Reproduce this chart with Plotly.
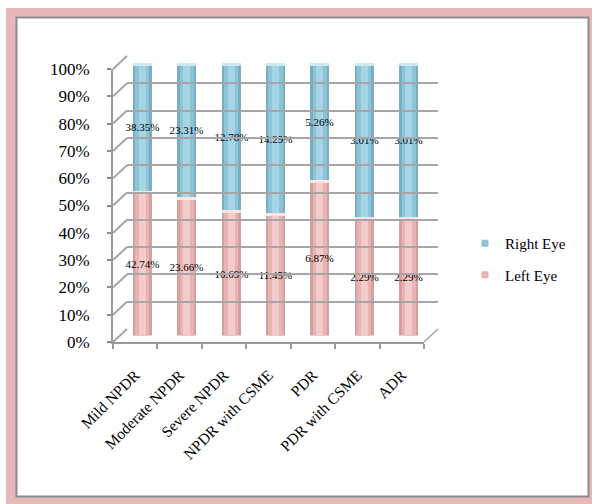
import plotly.graph_objects as go

# Diabetic retinopathy grades, share of eyes per grade
categories = ["Mild NPDR", "Moderate NPDR", "Severe NPDR", "NPDR with CSME",
              "PDR", "PDR with CSME", "ADR"]
left_eye = [42.74, 23.66, 10.69, 11.45, 6.87, 2.29, 2.29]
right_eye = [38.35, 23.31, 12.78, 14.29, 5.26, 3.01, 3.01]
y_ticks = list(range(0, 101, 10))

# 100% stacking: each column split between left and right eye
left_share = [l / (l + r) * 100 for l, r in zip(left_eye, right_eye)]
right_share = [r / (l + r) * 100 for l, r in zip(left_eye, right_eye)]

# Pseudo-3D frame geometry (pixels)
FIG_W, FIG_H = 592, 504
W, H = 311, 273          # front face of the plot box
DX, DY = 14, 13          # depth offset of the back wall
ML, MT = 113, 56
PW, PH = W + DX, H + DY
MR = FIG_W - ML - PW
MB = FIG_H - MT - PH


def px(x):
    return (x - ML) / PW


def py(y):
    return (MT + PH - y) / PH


SERIF = "Liberation Serif"
GRID = "#a6a6a6"

BLUE = ["#78adc2", "#8ec4d8", "#a6d5e5"]
PINK = ["#d39f9f", "#e7b4b4", "#f4caca"]
BAR_W = 0.43

fig = go.Figure()

# Cylinder-like columns: a darker body with lighter, narrower cores on top
for i, w in enumerate([BAR_W, 0.32, 0.16]):
    fig.add_trace(go.Bar(
        x=categories, y=left_share, base=[0] * len(categories), width=w,
        marker=dict(color=PINK[i], line=dict(width=0)),
        showlegend=False, hoverinfo="skip",
    ))
    fig.add_trace(go.Bar(
        x=categories, y=right_share, base=left_share, width=w,
        marker=dict(color=BLUE[i], line=dict(width=0)),
        showlegend=False, hoverinfo="skip",
    ))

# Light rims where the two segments meet and on top of each column
fig.add_trace(go.Bar(
    x=categories, y=[0.9] * len(categories),
    base=[s - 0.45 for s in left_share], width=BAR_W,
    marker=dict(color="#fbe6e6", line=dict(width=0)),
    showlegend=False, hoverinfo="skip",
))
fig.add_trace(go.Bar(
    x=categories, y=[1.2] * len(categories),
    base=[l + r - 1.2 for l, r in zip(left_share, right_share)], width=BAR_W,
    marker=dict(color="#cde9f2", line=dict(width=0)),
    showlegend=False, hoverinfo="skip",
))

# Value labels, centred on each segment
for share, base, vals in [(left_share, [0] * len(categories), left_eye),
                          (right_share, left_share, right_eye)]:
    fig.add_trace(go.Bar(
        x=categories, y=share, base=base, width=BAR_W,
        marker=dict(color="rgba(0,0,0,0)", line=dict(width=0)),
        text=[f"{v:.2f}%" for v in vals], textposition="inside",
        insidetextanchor="middle", textangle=0, constraintext="none",
        textfont=dict(family=SERIF, size=11, color="#000000"),
        showlegend=False, hoverinfo="skip",
    ))

# Legend entries
for name, col in [("Right Eye", BLUE[1]), ("Left Eye", PINK[1])]:
    fig.add_trace(go.Scatter(
        x=[None], y=[None], mode="markers", name=name, legendgroup=name,
        marker=dict(symbol="square", size=7, color=col),
    ))

shapes = []
# Outer pink frame and inner white panel
shapes.append(dict(type="rect", xref="paper", yref="paper", layer="below",
                   x0=px(6), x1=px(FIG_W + 5), y0=py(8), y1=py(FIG_H + 5),
                   fillcolor="#e6b8b7", line=dict(width=0)))
shapes.append(dict(type="rect", xref="paper", yref="paper", layer="below",
                   x0=px(16.5), x1=px(588.5), y0=py(17.5), y1=py(496.5),
                   fillcolor="white", line=dict(color="#8c8c8c", width=2)))

# Side wall: diagonals joining the front axis to the back-wall gridlines
for v in y_ticks:
    yf = v / 100 * H / PH
    yb = (DY + v / 100 * H) / PH
    shapes.append(dict(type="line", xref="paper", yref="paper", layer="below",
                       x0=0, y0=yf, x1=DX / PW, y1=yb,
                       line=dict(color=GRID, width=2)))
# Floor right edge
shapes.append(dict(type="line", xref="paper", yref="paper", layer="below",
                   x0=W / PW, y0=0, x1=1, y1=DY / PH,
                   line=dict(color=GRID, width=1.5)))

fig.update_layout(
    width=FIG_W, height=FIG_H,
    margin=dict(l=ML, r=MR, t=MT, b=MB, pad=0),
    paper_bgcolor="white", plot_bgcolor="rgba(0,0,0,0)",
    barmode="overlay", bargap=0,
    shapes=shapes,
    font=dict(family=SERIF, color="#000000"),
    # bars sit halfway between the front face and the back wall
    xaxis=dict(domain=[DX / 2 / PW, (W + DX / 2) / PW], range=[-0.5, 6.5],
               visible=False, fixedrange=True),
    yaxis=dict(domain=[DY / 2 / PH, (H + DY / 2) / PH], range=[0, 100],
               visible=False, fixedrange=True),
    # front axes with ticks and labels
    xaxis2=dict(domain=[0, W / PW], anchor="y2", type="category",
                categoryorder="array", categoryarray=categories,
                range=[-0.5, 6.5], showgrid=False, showline=True,
                linecolor="#9a9a9a", linewidth=2, ticks="outside",
                tickson="boundaries", ticklen=5, tickcolor="#9a9a9a",
                tickwidth=2, tickangle=-45, ticklabelstandoff=16,
                tickfont=dict(family=SERIF, size=15.5, color="#000000"),
                zeroline=False),
    yaxis2=dict(domain=[0, H / PH], anchor="x2", range=[0, 100],
                tickvals=y_ticks, ticktext=[f"{v}%" for v in y_ticks],
                showgrid=False, showline=True, linecolor="#9a9a9a",
                linewidth=2, ticks="outside", ticklen=4, tickcolor="#8a8a8a",
                tickwidth=2, ticklabelstandoff=14,
                tickfont=dict(family=SERIF, size=17, color="#000000"),
                zeroline=False),
    # back wall gridlines
    xaxis3=dict(domain=[DX / PW, 1], anchor="y3", range=[0, 1],
                visible=False),
    yaxis3=dict(domain=[DY / PH, 1], anchor="x3", range=[0, 100],
                tickvals=y_ticks, showticklabels=False, showgrid=True,
                gridcolor=GRID, gridwidth=2, zeroline=False, showline=False),
    legend=dict(x=px(465), y=py(227), xanchor="left", yanchor="top",
                traceorder="grouped", tracegroupgap=9,
                font=dict(family=SERIF, size=15, color="#000000"),
                bgcolor="rgba(0,0,0,0)", itemwidth=30),
)

# dummy traces so the front and back axes are drawn
fig.add_trace(go.Scatter(x=[categories[0]], y=[None], xaxis="x2", yaxis="y2",
                         showlegend=False, hoverinfo="skip"))
fig.add_trace(go.Scatter(x=[0], y=[None], xaxis="x3", yaxis="y3",
                         showlegend=False, hoverinfo="skip"))

fig.write_html("out.html")
